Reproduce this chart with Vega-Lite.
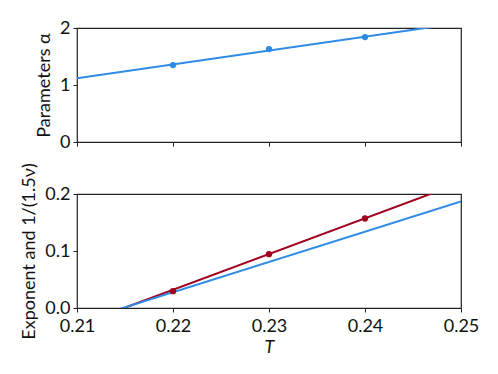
{
  "$schema": "https://vega.github.io/schema/vega-lite/v6.json",
  "padding": {"left": 20, "top": 18, "right": 5, "bottom": 5},
  "background": "white",
  "spacing": 52,
  "bounds": "flush",
  "config": {
    "font": "Lato",
    "view": {"stroke": "#222222", "strokeWidth": 1.2},
    "axis": {
      "grid": false,
      "domain": false,
      "tickColor": "#222222",
      "tickSize": 4,
      "tickWidth": 1,
      "labelFontSize": 18,
      "labelColor": "#111111",
      "labelPadding": 3,
      "labelFlush": false,
      "labelOverlap": false,
      "labelBound": false,
      "titleFontSize": 18,
      "titleFontWeight": "normal",
      "titleColor": "#111111"
    }
  },
  "datasets": {
    "top_pts": [
      {"T": 0.22, "alpha": 1.35},
      {"T": 0.23, "alpha": 1.63},
      {"T": 0.24, "alpha": 1.84}
    ],
    "top_line": [
      {"T": 0.21, "alpha": 1.12},
      {"T": 0.25, "alpha": 2.09}
    ],
    "bot_pts": [
      {"T": 0.22, "exponent": 0.0295},
      {"T": 0.23, "exponent": 0.0945},
      {"T": 0.24, "exponent": 0.157}
    ],
    "bot_red": [
      {"T": 0.21, "exponent": -0.0307},
      {"T": 0.25, "exponent": 0.2200}
    ],
    "bot_blue": [
      {"T": 0.21, "exponent": -0.0254},
      {"T": 0.25, "exponent": 0.1870}
    ]
  },
  "vconcat": [
    {
      "width": 384,
      "height": 114,
      "layer": [
        {
          "data": {"name": "top_line"},
          "mark": {"type": "line", "color": "#2e8ce6", "strokeWidth": 2, "clip": true},
          "encoding": {
            "x": {"field": "T", "type": "quantitative", "scale": {"domain": [0.21, 0.25], "nice": false, "zero": false},
                  "axis": {"values": [0.21, 0.22, 0.23, 0.24, 0.25], "labels": false, "title": null}},
            "y": {"field": "alpha", "type": "quantitative", "scale": {"domain": [0, 2], "nice": false},
                  "axis": {"values": [0, 1, 2], "format": ".0f", "title": "Parameters α", "titlePadding": 6}}
          }
        },
        {
          "data": {"name": "top_pts"},
          "mark": {"type": "point", "filled": true, "color": "#2e8ce6", "size": 40, "opacity": 1},
          "encoding": {
            "x": {"field": "T", "type": "quantitative"},
            "y": {"field": "alpha", "type": "quantitative"}
          }
        }
      ]
    },
    {
      "width": 384,
      "height": 114,
      "layer": [
        {
          "data": {"name": "bot_red"},
          "mark": {"type": "line", "color": "#a0001e", "strokeWidth": 2, "clip": true},
          "encoding": {
            "x": {"field": "T", "type": "quantitative", "scale": {"domain": [0.21, 0.25], "nice": false, "zero": false},
                  "axis": {"values": [0.21, 0.22, 0.23, 0.24, 0.25], "format": ".2f", "labelPadding": 5, "title": "T", "titleFontStyle": "italic", "titlePadding": 3}},
            "y": {"field": "exponent", "type": "quantitative", "scale": {"domain": [0, 0.2], "nice": false},
                  "axis": {"values": [0, 0.1, 0.2], "format": ".1f", "title": "Exponent and 1/(1.5ν)", "titlePadding": 6}}
          }
        },
        {
          "data": {"name": "bot_blue"},
          "mark": {"type": "line", "color": "#2e8ce6", "strokeWidth": 2, "clip": true},
          "encoding": {
            "x": {"field": "T", "type": "quantitative"},
            "y": {"field": "exponent", "type": "quantitative"}
          }
        },
        {
          "data": {"name": "bot_pts"},
          "mark": {"type": "point", "filled": true, "color": "#a0001e", "size": 40, "opacity": 1},
          "encoding": {
            "x": {"field": "T", "type": "quantitative"},
            "y": {"field": "exponent", "type": "quantitative"}
          }
        }
      ]
    }
  ]
}
